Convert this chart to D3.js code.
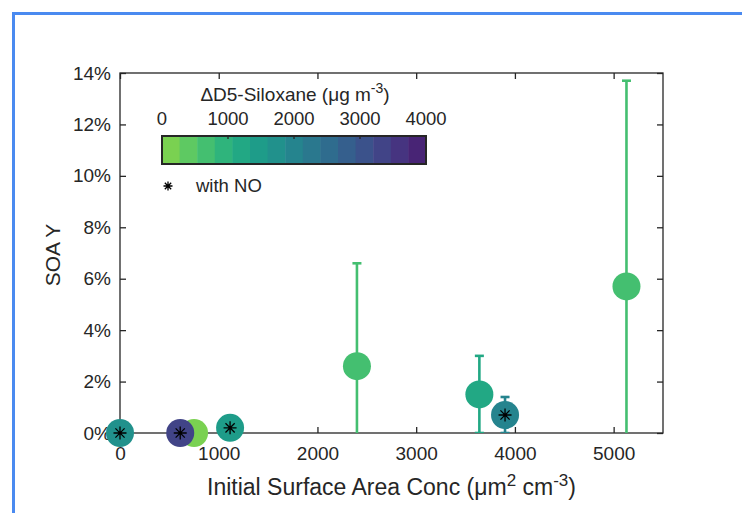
<!DOCTYPE html>
<html>
<head>
<meta charset="utf-8">
<script src="https://cdn.jsdelivr.net/npm/d3@7"></script>
<style>
  body { margin: 0; background: #fff; }
  svg { display: block; font-family: "Liberation Sans", Arial, Helvetica, sans-serif; }
</style>
</head>
<body>
<div id="chart"></div>
<script>
/* SOA yield vs initial surface area */

// data
const surfaceArea = [0, 750, 610, 1115, 2400, 3640, 3900, 5130];
const soaYield = [0, 0, 0, 0.2, 2.6, 1.5, 0.7, 5.7];       // %
const soaErr = [0, 0, 0, 0, 4.0, 1.5, 0.7, 8.0];          // %
const d5Siloxane = [1730, 100, 3330, 1470, 670, 1200, 2000, 670];
const withNO = [true, false, true, true, false, false, true, false];

const xTicks = [0, 1000, 2000, 3000, 4000, 5000];
const yTicks = [0, 2, 4, 6, 8, 10, 12, 14];
const cbTicks = [0, 1000, 2000, 3000, 4000];

const W = 742, H = 513;
const margin = { top: 73, right: 79, bottom: 80, left: 120 };
const ink = "#262626";

const svg = d3.select("#chart").append("svg")
  .attr("width", W)
  .attr("height", H);

// screenshot frame
svg.append("rect").attr("x", 12).attr("y", 12).attr("width", W).attr("height", 3).attr("fill", "#4a8af0");
svg.append("rect").attr("x", 12).attr("y", 12).attr("width", 3).attr("height", H).attr("fill", "#4a8af0");

const x = d3.scaleLinear().domain([0, 5500]).range([margin.left, W - margin.right]);
const y = d3.scaleLinear().domain([0, 14]).range([H - margin.bottom, margin.top]);

// 15 discrete viridis steps, light green -> purple
const nColors = 15;
const palette = d3.range(nColors).map(i => d3.interpolateViridis(0.8 - i * 0.05));
const color = d3.scaleQuantize().domain([0, 4000]).range(palette);

const defs = svg.append("defs");
defs.append("clipPath").attr("id", "plot-clip")
  .append("rect")
  .attr("x", margin.left).attr("y", margin.top)
  .attr("width", W - margin.right - margin.left)
  .attr("height", H - margin.bottom - margin.top);

// axes (box, ticks inside)
const tickLen = 6;
const axisG = svg.append("g");

axisG.append("g")
  .attr("transform", `translate(0,${H - margin.bottom})`)
  .call(d3.axisBottom(x).tickValues(xTicks).tickSize(-tickLen).tickPadding(14).tickFormat(d3.format("d")))
  .call(g => g.select(".domain").remove());

axisG.append("g")
  .attr("transform", `translate(0,${margin.top})`)
  .call(d3.axisTop(x).tickValues(xTicks).tickSize(-tickLen).tickFormat(""))
  .call(g => g.select(".domain").remove());

axisG.append("g")
  .attr("transform", `translate(${margin.left},0)`)
  .call(d3.axisLeft(y).tickValues(yTicks).tickSize(-tickLen).tickPadding(9).tickFormat(d => d + "%"))
  .call(g => g.select(".domain").remove());

axisG.append("g")
  .attr("transform", `translate(${W - margin.right},0)`)
  .call(d3.axisRight(y).tickValues(yTicks).tickSize(-tickLen).tickFormat(""))
  .call(g => g.select(".domain").remove());

axisG.selectAll(".tick line").attr("stroke", ink).attr("stroke-width", 1.3);
axisG.selectAll(".tick text")
  .attr("fill", ink)
  .attr("font-size", 19)
  .attr("font-family", "Liberation Sans, Arial, sans-serif");

svg.append("rect")
  .attr("x", margin.left).attr("y", margin.top)
  .attr("width", W - margin.right - margin.left)
  .attr("height", H - margin.bottom - margin.top)
  .attr("fill", "none")
  .attr("stroke", ink)
  .attr("stroke-width", 1.3);

// axis labels
const xLabel = svg.append("text")
  .attr("x", (margin.left + W - margin.right) / 2)
  .attr("y", 495)
  .attr("text-anchor", "middle")
  .attr("font-size", 23)
  .attr("fill", ink);
xLabel.append("tspan").text("Initial Surface Area Conc (μm");
xLabel.append("tspan").attr("dy", -9).attr("font-size", 17).text("2");
xLabel.append("tspan").attr("dy", 9).text(" cm");
xLabel.append("tspan").attr("dy", -9).attr("font-size", 17).text("-3");
xLabel.append("tspan").attr("dy", 9).text(")");

svg.append("text")
  .attr("transform", `translate(60,${(margin.top + H - margin.bottom) / 2 + 2}) rotate(-90)`)
  .attr("text-anchor", "middle")
  .attr("font-size", 21)
  .attr("fill", ink)
  .text("SOA Y");

// points
const pts = surfaceArea.map((s, i) => ({
  s, v: soaYield[i], e: soaErr[i], d5: d5Siloxane[i], no: withNO[i]
}));

const plot = svg.append("g");

// error bars (clipped)
const eb = plot.append("g").attr("clip-path", "url(#plot-clip)");
const capW = 4.5;
pts.filter(d => d.e > 0).forEach(d => {
  const c = color(d.d5);
  const g = eb.append("g").attr("stroke", c).attr("stroke-width", 2.6);
  g.append("line").attr("x1", x(d.s)).attr("x2", x(d.s)).attr("y1", y(d.v - d.e)).attr("y2", y(d.v + d.e));
  g.append("line").attr("x1", x(d.s) - capW).attr("x2", x(d.s) + capW).attr("y1", y(d.v + d.e)).attr("y2", y(d.v + d.e));
  g.append("line").attr("x1", x(d.s) - capW).attr("x2", x(d.s) + capW).attr("y1", y(d.v - d.e)).attr("y2", y(d.v - d.e));
});

plot.selectAll("circle.pt")
  .data(pts)
  .join("circle")
  .attr("class", "pt")
  .attr("cx", d => x(d.s))
  .attr("cy", d => y(d.v))
  .attr("r", 14)
  .attr("fill", d => color(d.d5));

function asterisk(g, cx, cy, r) {
  const a = r * Math.SQRT1_2;
  g.append("path")
    .attr("d", `M${cx - r},${cy}H${cx + r}M${cx},${cy - r}V${cy + r}` +
      `M${cx - a},${cy - a}L${cx + a},${cy + a}M${cx - a},${cy + a}L${cx + a},${cy - a}`)
    .attr("stroke", "#000")
    .attr("stroke-width", 1.3)
    .attr("fill", "none");
}

pts.filter(d => d.no).forEach(d => asterisk(plot, x(d.s), y(d.v), 6.5));

// colorbar
const cb = svg.append("g");
const cbX = d3.scaleLinear().domain([0, 4000]).range([162, 426]);
const cbTop = 136, cbH = 28;
const step = 4000 / nColors;
cb.selectAll("rect.seg")
  .data(palette)
  .join("rect")
  .attr("class", "seg")
  .attr("x", (d, i) => cbX(i * step))
  .attr("y", cbTop)
  .attr("width", (d, i) => cbX((i + 1) * step) - cbX(i * step) + 0.5)
  .attr("height", cbH)
  .attr("fill", d => d);
cb.append("rect")
  .attr("x", cbX(0)).attr("y", cbTop)
  .attr("width", cbX(4000) - cbX(0)).attr("height", cbH)
  .attr("fill", "none").attr("stroke", ink).attr("stroke-width", 2);
cb.selectAll("line.cbt")
  .data(cbTicks.slice(1, -1))
  .join("line")
  .attr("class", "cbt")
  .attr("x1", d => cbX(d)).attr("x2", d => cbX(d))
  .attr("y1", cbTop).attr("y2", cbTop + 3)
  .attr("stroke", ink).attr("stroke-width", 1.3);
cb.selectAll("text.cbl")
  .data(cbTicks)
  .join("text")
  .attr("class", "cbl")
  .attr("x", d => cbX(d))
  .attr("y", 125)
  .attr("text-anchor", "middle")
  .attr("font-size", 18.5)
  .attr("fill", ink)
  .text(d => d);

const cbTitle = cb.append("text")
  .attr("x", (cbX(0) + cbX(4000)) / 2 + 1)
  .attr("y", 101)
  .attr("text-anchor", "middle")
  .attr("font-size", 19)
  .attr("fill", ink);
cbTitle.append("tspan").text("ΔD5-Siloxane (μg m");
cbTitle.append("tspan").attr("dy", -8).attr("font-size", 14).text("-3");
cbTitle.append("tspan").attr("dy", 8).text(")");

// legend for NO
asterisk(svg, 168, 186, 4.5);
svg.append("text")
  .attr("x", 196)
  .attr("y", 192)
  .attr("font-size", 18.5)
  .attr("fill", ink)
  .text("with NO");
</script>
</body>
</html>
